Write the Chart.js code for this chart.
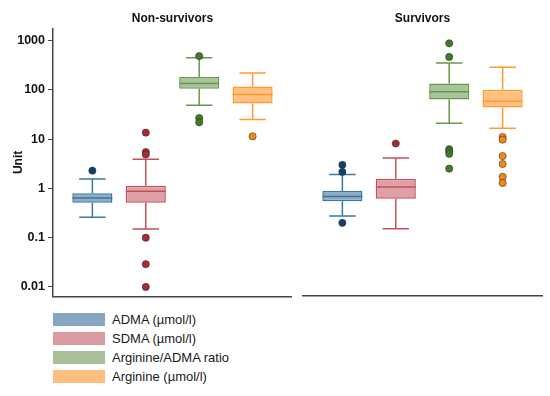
<!DOCTYPE html>
<html>
<head>
<meta charset="utf-8">
<script src="https://cdn.jsdelivr.net/npm/chart.js@4.4.1/dist/chart.umd.min.js"></script>
<style>
  body { margin: 0; background: #fff; }
  #wrap { position: relative; width: 550px; height: 396px; background: #fff; font-family: "Liberation Sans", Arial, sans-serif; }
  #left { position: absolute; left: 0; top: 0; }
  #right { position: absolute; left: 292px; top: 0; }
  #legend { position: absolute; left: 53px; top: 310px; }
  .item { display: flex; align-items: center; height: 19px; font-size: 13px; color: #1a1a1a; }
  .swatch { width: 52px; height: 13px; margin-right: 7px; }
</style>
</head>
<body>
<div id="wrap">
  <canvas id="left" width="292" height="307"></canvas>
  <canvas id="right" width="258" height="300"></canvas>
  <div id="legend"></div>
</div>
<script>
// Data
var groups = ['Non-survivors', 'Survivors'];
var measures = ['ADMA (µmol/l)', 'SDMA (µmol/l)', 'Arginine/ADMA ratio', 'Arginine (µmol/l)'];
var yTicks = [0.01, 0.1, 1, 10, 100, 1000];

// Non-survivors
var nsLow = [0.26, 0.15, 49, 25];
var nsQ1 = [0.51, 0.51, 106, 53];
var nsMedian = [0.64, 0.88, 136, 81];
var nsQ3 = [0.80, 1.13, 183, 117];
var nsHigh = [1.55, 3.9, 453, 220];
var nsOutliers = [[2.3], [13.6, 5.5, 4.9, 0.1, 0.029, 0.01], [488, 27, 22], [11.4]];

// Survivors
var sLow = [0.27, 0.15, 21, 16.6];
var sQ1 = [0.54, 0.61, 64, 44];
var sMedian = [0.68, 1.06, 92, 59];
var sQ3 = [0.88, 1.55, 134, 100];
var sHigh = [1.9, 4.1, 352, 288];
var sOutliers = [[2.98, 2.14, 0.197], [8.1], [885, 467, 6.2, 5.6, 5.0, 2.5], [11, 9.7, 4.5, 3.1, 1.7, 1.28]];

// Styles
var fillColors = ['#8eadc6', '#dea0a7', '#a9c39a', '#ffc080'];
var lineColors = ['#3a76a0', '#c4505b', '#67994a', '#ff9a33'];
var dotColors = ['#0f416f', '#a82a33', '#3f7c25', '#f28a12'];
var legendColors = ['#87a7c0', '#d99ba1', '#a9bf98', '#ffbe80'];

Chart.defaults.font.family = '"Liberation Sans", Arial, sans-serif';
Chart.defaults.color = '#111';

// whiskers, medians and outlier dots on top of the floating bars
var boxPlugin = {
  id: 'boxWhiskers',
  afterDatasetsDraw: function (chart) {
    var ctx = chart.ctx;
    var y = chart.scales.y;
    chart.data.datasets.forEach(function (ds, i) {
      var el = chart.getDatasetMeta(i).data[0];
      if (!el) return;
      var p = el.getProps(['x', 'width'], true);
      var half = p.width / 2;
      var cap = p.width * 0.33;
      var st = ds.stats;
      ctx.save();
      ctx.strokeStyle = ds.borderColor;
      ctx.lineWidth = 1.5;
      ctx.beginPath();
      ctx.moveTo(p.x, y.getPixelForValue(st.q3));
      ctx.lineTo(p.x, y.getPixelForValue(st.high));
      ctx.moveTo(p.x - cap, y.getPixelForValue(st.high));
      ctx.lineTo(p.x + cap, y.getPixelForValue(st.high));
      ctx.moveTo(p.x, y.getPixelForValue(st.q1));
      ctx.lineTo(p.x, y.getPixelForValue(st.low));
      ctx.moveTo(p.x - cap, y.getPixelForValue(st.low));
      ctx.lineTo(p.x + cap, y.getPixelForValue(st.low));
      ctx.moveTo(p.x - half, y.getPixelForValue(st.median));
      ctx.lineTo(p.x + half, y.getPixelForValue(st.median));
      ctx.stroke();
      ctx.fillStyle = ds.dotColor;
      ctx.strokeStyle = '#333';
      ctx.lineWidth = 0.6;
      st.outliers.forEach(function (v) {
        ctx.beginPath();
        ctx.arc(p.x, y.getPixelForValue(v), 3.6, 0, Math.PI * 2);
        ctx.fill();
        ctx.stroke();
      });
      ctx.restore();
    });
  }
};

var makeDatasets = function (low, q1, med, q3, high, outliers) {
  return measures.map(function (m, i) {
    return {
      label: m,
      data: [[q1[i], q3[i]]],
      backgroundColor: fillColors[i],
      borderColor: lineColors[i],
      borderWidth: 1.5,
      borderSkipped: false,
      dotColor: dotColors[i],
      stats: { low: low[i], q1: q1[i], median: med[i], q3: q3[i], high: high[i], outliers: outliers[i] }
    };
  });
};

var makeOptions = function (title, showY, padding) {
  return {
    responsive: false,
    animation: false,
    layout: { padding: padding },
    datasets: { bar: { categoryPercentage: 0.894, barPercentage: 0.75 } },
    plugins: {
      legend: { display: false },
      tooltip: { enabled: false },
      title: {
        display: true,
        text: title,
        fullSize: false,
        font: { size: 12, weight: 'bold' },
        color: '#111',
        padding: { top: 11, bottom: 3 }
      }
    },
    scales: {
      x: {
        type: 'category',
        grid: { display: false, drawTicks: false },
        border: { display: true, color: '#444', width: 1.5 },
        ticks: { display: false }
      },
      y: {
        type: 'logarithmic',
        display: showY,
        min: 0.0064,
        max: 1780,
        afterBuildTicks: function (scale) {
          scale.ticks = yTicks.map(function (v) { return { value: v }; });
        },
        afterFit: function (scale) { if (showY) scale.width = 53; },
        grid: { drawOnChartArea: false, drawTicks: true, tickLength: 5, color: '#444' },
        border: { display: true, color: '#444', width: 1.5 },
        ticks: {
          padding: 3,
          font: { size: 12.5, weight: 'bold' },
          color: '#111',
          callback: function (v) { return String(v); }
        },
        title: {
          display: true,
          text: 'Unit',
          font: { size: 12, weight: 'bold' },
          color: '#111',
          padding: { top: 11, bottom: 0 }
        }
      }
    }
  };
};

new Chart(document.getElementById('left'), {
  type: 'bar',
  data: { labels: [groups[0]], datasets: makeDatasets(nsLow, nsQ1, nsMedian, nsQ3, nsHigh, nsOutliers) },
  options: makeOptions(groups[0], true, { left: 0, right: 0, top: 0, bottom: 4 }),
  plugins: [boxPlugin]
});

new Chart(document.getElementById('right'), {
  type: 'bar',
  data: { labels: [groups[1]], datasets: makeDatasets(sLow, sQ1, sMedian, sQ3, sHigh, sOutliers) },
  options: makeOptions(groups[1], false, { left: 11, right: 8, top: 0, bottom: 4 }),
  plugins: [boxPlugin]
});

// legend list under the left panel
var legend = document.getElementById('legend');
measures.forEach(function (m, i) {
  var row = document.createElement('div');
  row.className = 'item';
  var sw = document.createElement('span');
  sw.className = 'swatch';
  sw.style.background = legendColors[i];
  var txt = document.createElement('span');
  txt.textContent = m;
  row.appendChild(sw);
  row.appendChild(txt);
  legend.appendChild(row);
});
</script>
</body>
</html>
